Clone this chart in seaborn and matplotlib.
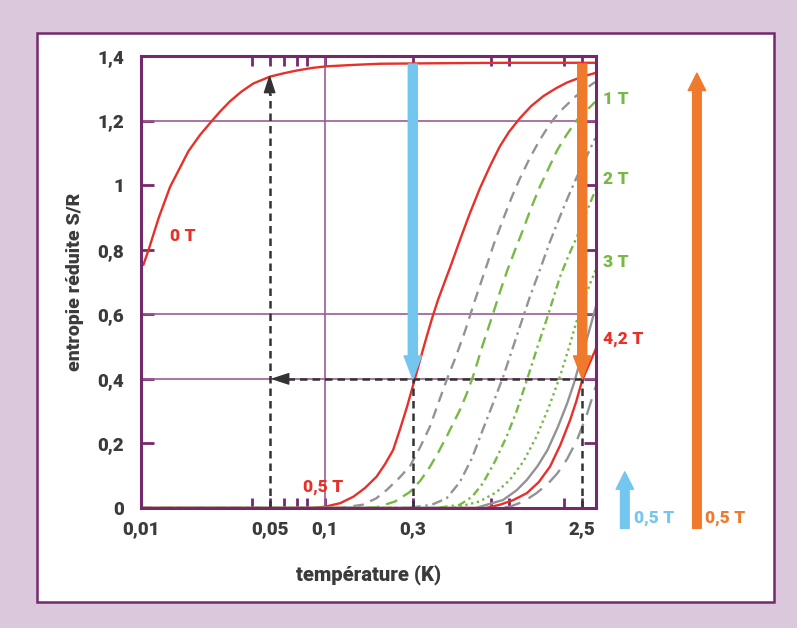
import numpy as np
import pandas as pd
import matplotlib.pyplot as plt
import seaborn as sns
from matplotlib.patches import Rectangle
from matplotlib.ticker import NullLocator

# Courbes d'entropie réduite S/R en fonction de la température
T_0T = [0.0103, 0.0110, 0.0125, 0.0144, 0.0181, 0.0209, 0.0242, 0.0269, 0.0305, 0.0352, 0.0408, 0.0502, 0.0602, 0.0702, 0.085, 0.1016, 0.15, 0.2, 0.5, 1.0, 2.97]
S_0T = [0.753, 0.80, 0.90, 0.995, 1.105, 1.155, 1.198, 1.228, 1.26, 1.29, 1.315, 1.336, 1.347, 1.355, 1.363, 1.368, 1.373, 1.376, 1.378, 1.379, 1.379]

T_05T = [0.01, 0.085, 0.10, 0.121, 0.1426, 0.165, 0.1906, 0.212, 0.2347, 0.256, 0.2779, 0.308, 0.331, 0.3569, 0.383, 0.4115, 0.447, 0.4872, 0.5412, 0.61, 0.6946, 0.79, 0.8915, 1.0, 1.144, 1.32, 1.54, 1.8, 2.07, 2.4, 2.65, 2.97]
S_05T = [0.0, 0.0, 0.004, 0.015, 0.035, 0.062, 0.097, 0.136, 0.18, 0.245, 0.31, 0.40, 0.465, 0.531, 0.59, 0.645, 0.70, 0.757, 0.83, 0.91, 0.99, 1.06, 1.12, 1.165, 1.207, 1.245, 1.276, 1.30, 1.318, 1.332, 1.340, 1.348]

T_075T = [0.01, 0.12, 0.16, 0.19, 0.2165, 0.25, 0.29, 0.33, 0.3717, 0.413, 0.458, 0.515, 0.577, 0.65, 0.74, 0.83, 0.93, 1.03, 1.144, 1.3, 1.47, 1.67, 1.89, 2.3, 2.86, 2.97]
S_075T = [0.0, 0.0, 0.01, 0.03, 0.056, 0.09, 0.13, 0.19, 0.252, 0.325, 0.396, 0.47, 0.548, 0.64, 0.735, 0.82, 0.895, 0.96, 1.02, 1.085, 1.14, 1.19, 1.228, 1.275, 1.315, 1.32]

T_1T = [0.01, 0.15, 0.19, 0.24, 0.29, 0.33, 0.372, 0.415, 0.458, 0.5, 0.54, 0.59, 0.637, 0.72, 0.82, 0.9, 0.98, 1.08, 1.19, 1.32, 1.47, 1.65, 1.83, 2.05, 2.34, 2.94]
S_1T = [0.0, 0.0, 0.002, 0.02, 0.05, 0.085, 0.128, 0.175, 0.221, 0.265, 0.303, 0.355, 0.407, 0.505, 0.603, 0.675, 0.737, 0.80, 0.861, 0.93, 0.995, 1.055, 1.109, 1.155, 1.202, 1.258]

T_15T = [0.01, 0.28, 0.38, 0.458, 0.54, 0.63, 0.72, 0.82, 0.93, 1.04, 1.144, 1.3, 1.47, 1.67, 1.89, 2.1, 2.34, 2.94]
S_15T = [0.0, 0.0, 0.01, 0.03, 0.08, 0.155, 0.242, 0.325, 0.407, 0.49, 0.561, 0.655, 0.737, 0.825, 0.902, 0.965, 1.026, 1.145]

T_2T = [0.01, 0.4, 0.54, 0.63, 0.72, 0.84, 0.97, 1.1, 1.25, 1.43, 1.62, 1.89, 2.1, 2.34, 2.65, 3.0]
S_2T = [0.0, 0.0, 0.01, 0.035, 0.076, 0.145, 0.221, 0.30, 0.396, 0.50, 0.593, 0.715, 0.78, 0.84, 0.92, 0.995]

T_3T = [0.01, 0.5, 0.69, 0.85, 1.01, 1.2, 1.41, 1.64, 1.89, 2.1, 2.34, 2.65, 2.97]
S_3T = [0.0, 0.0, 0.02, 0.048, 0.087, 0.145, 0.221, 0.31, 0.407, 0.49, 0.582, 0.67, 0.74]

T_35T = [0.01, 0.66, 0.93, 1.1, 1.25, 1.43, 1.62, 1.84, 2.07, 2.25, 2.42, 2.7, 3.0]
S_35T = [0.0, 0.0, 0.025, 0.055, 0.087, 0.13, 0.18, 0.25, 0.324, 0.385, 0.448, 0.54, 0.634]

T_42T = [0.01, 0.75, 0.89, 1.05, 1.25, 1.45, 1.67, 1.9, 2.15, 2.32, 2.5, 2.75, 3.0]
S_42T = [0.0, 0.0, 0.01, 0.024, 0.046, 0.08, 0.128, 0.195, 0.273, 0.33, 0.396, 0.45, 0.5]

T_5T = [0.01, 0.9, 1.01, 1.2, 1.41, 1.62, 1.83, 2.07, 2.34, 2.65, 3.0]
S_5T = [0.0, 0.0, 0.004, 0.02, 0.046, 0.074, 0.107, 0.152, 0.21, 0.29, 0.386]

# cycle de désaimantation adiabatique
cycle_T = [0.05, 0.3, 2.5]
cycle_S = 0.4
S_at_005 = 1.336
arrow_top_S = 1.375

xtick_pos = [0.01, 0.04, 0.05, 0.06, 0.07, 0.08, 0.1, 0.3, 0.8, 1, 2, 2.5]
xtick_lab = ['0,01', '', '0,05', '', '', '', '0,1', '0,3', '', '1', '', '2,5']
ytick_pos = [0, 0.2, 0.4, 0.6, 0.8, 1.0, 1.2, 1.4]
ytick_lab = ['0', '0,2', '0,4', '0,6', '0,8', '1', '1,2', '1,4']

RED = '#e8302a'
GREEN = '#78b845'
GRAY = '#939393'
BLUE = '#72c6ef'
ORANGE = '#ef7a2b'
DARK = '#333333'
PURPLE = '#74296d'
GRID = '#9c5c94'
BG = '#dbc8dc'
TXT = '#3b3b3b'
WEIGHT = 'heavy'

sns.set_theme(style='white')
plt.rcParams['font.family'] = ['Roboto', 'DejaVu Sans']

fig = plt.figure(figsize=(7.97, 6.28), dpi=100)
fig.patch.set_facecolor(BG)
fig.add_artist(Rectangle((37 / 797, 1 - 602 / 628), 737 / 797, 569 / 628,
                         transform=fig.transFigure, facecolor='white',
                         edgecolor=PURPLE, lw=1.8, zorder=0))
ax = fig.add_axes([141 / 797, 1 - 508 / 628, 455 / 797, 452 / 628])
ax.set_facecolor('white')

# grille partielle
for y in [0.4, 0.6, 1.2]:
    ax.axhline(y, color=GRID, lw=1.2, zorder=1)
ax.axvline(0.1, color=GRID, lw=1.2, zorder=1)

curves = [
    (T_0T, S_0T, RED, '-'),
    (T_05T, S_05T, RED, '-'),
    (T_42T, S_42T, RED, '-'),
    (T_35T, S_35T, GRAY, '-'),
    (T_075T, S_075T, GRAY, (0, (4.5, 3)), ),
    (T_1T, S_1T, GREEN, (0, (5, 3))),
    (T_15T, S_15T, GRAY, (0, (4.5, 2, 1, 2))),
    (T_2T, S_2T, GREEN, (0, (3.5, 1.7, 1, 1.7))),
    (T_3T, S_3T, GREEN, (0, (1, 1.5))),
    (T_5T, S_5T, GRAY, (0, (7, 4))),
]
for T, S, c, ls in curves:
    df = pd.DataFrame({'T': T, 'S': S})
    sns.lineplot(data=df, x='T', y='S', ax=ax, color=c, linestyle=ls, lw=1.7,
                 sort=False, estimator=None, zorder=3)

# pointillés noirs du cycle
dash = (0, (3, 2))
ax.plot([cycle_T[0], cycle_T[0]], [0, S_at_005 - 0.05], color=DARK, lw=1.8, ls=dash, zorder=4)
ax.plot([cycle_T[1], cycle_T[1]], [0, cycle_S], color=DARK, lw=1.8, ls=dash, zorder=4)
ax.plot([cycle_T[2], cycle_T[2]], [0, cycle_S], color=DARK, lw=1.8, ls=dash, zorder=4)
ax.plot([cycle_T[2], 0.058], [cycle_S, cycle_S], color=DARK, lw=1.8, ls=dash, zorder=4)
head = dict(arrowstyle='simple,head_length=1.15,head_width=0.75,tail_width=0.01',
            color=DARK, mutation_scale=10, shrinkA=0, shrinkB=0)
ax.annotate('', xy=(cycle_T[0], S_at_005), xytext=(cycle_T[0], S_at_005 - 0.055), arrowprops=head, zorder=5)
ax.annotate('', xy=(0.052, cycle_S), xytext=(0.062, cycle_S), arrowprops=head, zorder=5)

# flèches épaisses
big = 'simple,head_length=1.65,head_width=1.25,tail_width=0.65'
ax.annotate('', xy=(cycle_T[1], cycle_S), xytext=(cycle_T[1], arrow_top_S),
            arrowprops=dict(arrowstyle=big, color=BLUE, mutation_scale=10, shrinkA=0, shrinkB=0), zorder=6)
ax.annotate('', xy=(cycle_T[2], cycle_S), xytext=(cycle_T[2], arrow_top_S),
            arrowprops=dict(arrowstyle=big, color=ORANGE, mutation_scale=10, shrinkA=0, shrinkB=0), zorder=6)

small = 'simple,head_length=1.25,head_width=1.25,tail_width=0.62'
ax.annotate('', xy=(4.26, 0.112), xytext=(4.26, -0.063),
            arrowprops=dict(arrowstyle=small, color=BLUE, mutation_scale=10, shrinkA=0, shrinkB=0),
            annotation_clip=False)
ax.annotate('', xy=(10.5, 1.347), xytext=(10.5, -0.063),
            arrowprops=dict(arrowstyle=small, color=ORANGE, mutation_scale=10, shrinkA=0, shrinkB=0),
            annotation_clip=False)

# étiquettes des courbes
lab = dict(fontsize=12.5, fontweight=WEIGHT, va='center', clip_on=False)
ax.text(0.0143, 0.842, '0 T', color=RED, **lab)
ax.text(0.0755, 0.065, '0,5 T', color=RED, **lab)
ax.text(3.25, 1.268, '1 T', color=GREEN, **lab)
ax.text(3.25, 1.018, '2 T', color=GREEN, **lab)
ax.text(3.25, 0.762, '3 T', color=GREEN, **lab)
ax.text(3.25, 0.523, '4,2 T', color=RED, **lab)
ax.text(4.75, -0.03, '0,5 T', color=BLUE, **lab)
ax.text(11.6, -0.03, '0,5 T', color=ORANGE, **lab)

ax.set_xscale('log')
ax.set_xlim(0.01, 2.97)
ax.set_ylim(0, 1.4)
ax.set_xticks(xtick_pos)
ax.set_xticklabels(xtick_lab)
ax.xaxis.set_minor_locator(NullLocator())
ax.set_yticks(ytick_pos)
ax.set_yticklabels(ytick_lab)
ax.tick_params(axis='x', direction='in', top=True, bottom=True, length=7, width=2,
               color=PURPLE, pad=9, labelsize=13.5, labelcolor=TXT)
ax.tick_params(axis='y', direction='in', left=True, right=True, length=9, width=2,
               color=PURPLE, pad=12, labelsize=13.5, labelcolor=TXT)
for t in ax.get_xticklabels() + ax.get_yticklabels():
    t.set_fontweight(WEIGHT)
for s in ax.spines.values():
    s.set_color(PURPLE)
    s.set_linewidth(2.2)
    s.set_zorder(7)

ax.set_xlabel('température (K)', fontsize=14.5, fontweight=WEIGHT, color=TXT)
ax.set_ylabel('entropie réduite S/R', fontsize=14, fontweight=WEIGHT, color=TXT)
ax.xaxis.set_label_coords(0.5, -0.125)
ax.yaxis.set_label_coords(-0.125, 0.5)

fig.savefig('out.png', dpi=100, facecolor=fig.get_facecolor())
